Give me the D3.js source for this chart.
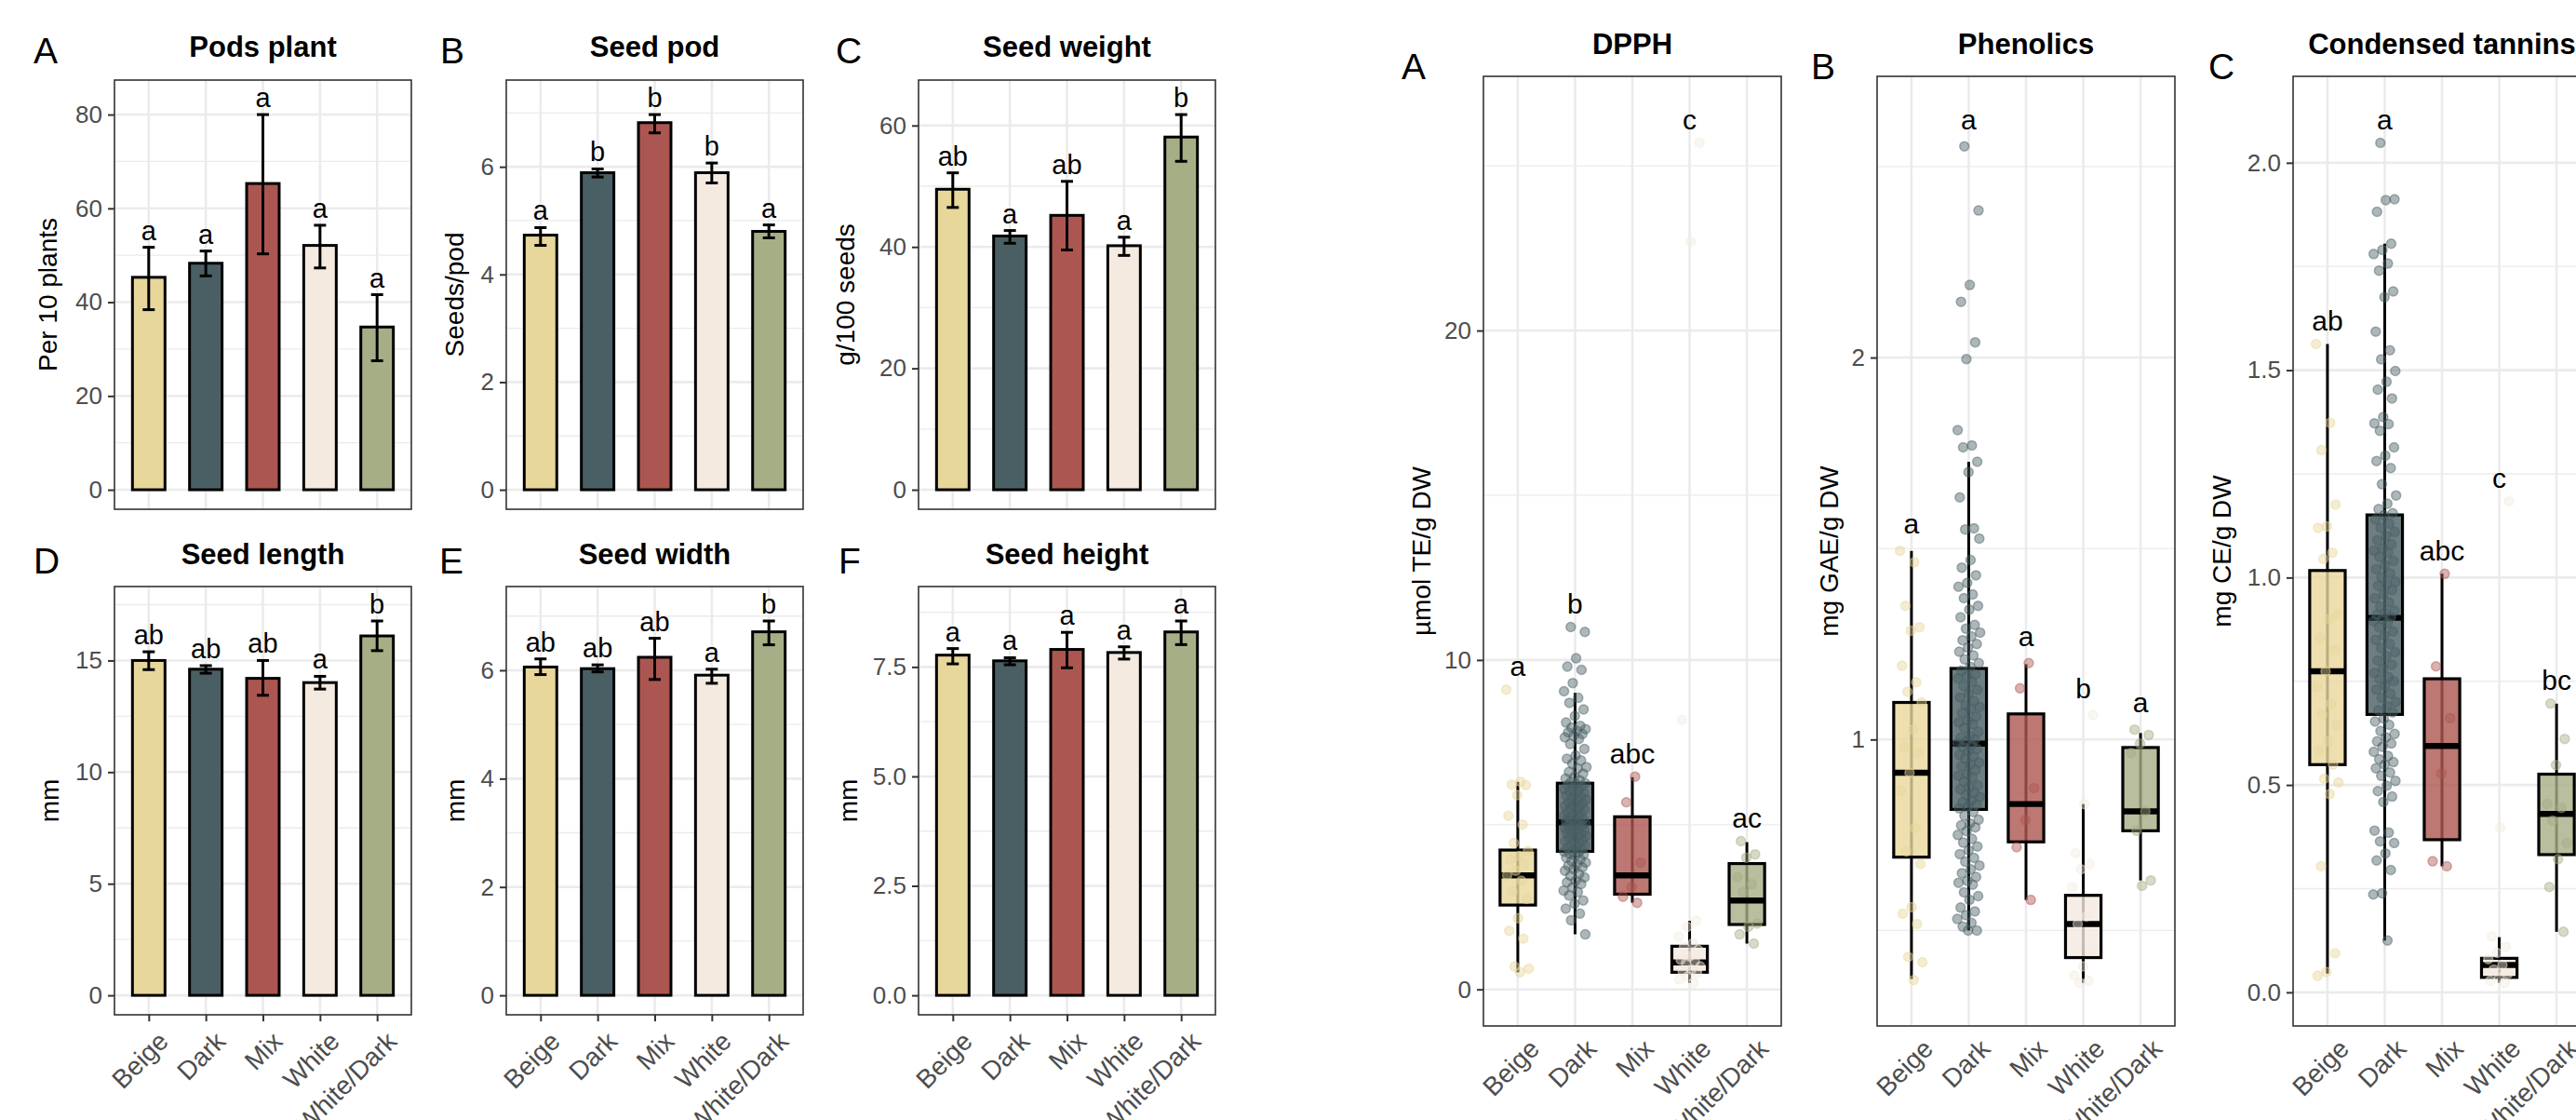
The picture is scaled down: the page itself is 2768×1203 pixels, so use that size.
<!DOCTYPE html>
<html>
<head>
<meta charset="utf-8">
<script src="https://cdn.jsdelivr.net/npm/d3@7"></script>
<style>
  body { margin: 0; background: #fff; }
  svg { display: block; }
</style>
</head>
<body>
<svg id="fig" width="2768" height="1203"></svg>
<script>
// ---- data ----
const cats = ["Beige", "Dark", "Mix", "White", "White/Dark"];
const fills = ["#e8d79b", "#4a5f64", "#ac5651", "#f4eae0", "#a6ae86"];

// bar panels: mean, lower / upper error bar, letters
const podsMean = [45.3, 48.3, 65.3, 52.1, 34.7];
const podsLow = [38.4, 45.6, 50.3, 47.3, 27.5];
const podsHigh = [51.7, 50.9, 80.0, 56.4, 41.6];
const podsLetters = ["a", "a", "a", "a", "a"];

const seedPodMean = [4.73, 5.89, 6.82, 5.89, 4.80];
const seedPodLow = [4.54, 5.81, 6.63, 5.70, 4.68];
const seedPodHigh = [4.87, 5.96, 6.97, 6.07, 4.92];
const seedPodLetters = ["a", "b", "b", "b", "a"];

const weightMean = [49.5, 41.8, 45.2, 40.2, 58.1];
const weightLow = [46.5, 40.6, 39.5, 38.6, 54.1];
const weightHigh = [52.2, 42.7, 50.8, 41.6, 61.8];
const weightLetters = ["ab", "a", "ab", "a", "b"];

const lengthMean = [15.0, 14.61, 14.2, 14.01, 16.1];
const lengthLow = [14.59, 14.43, 13.44, 13.72, 15.44];
const lengthHigh = [15.39, 14.77, 15.0, 14.29, 16.77];
const lengthLetters = ["ab", "ab", "ab", "a", "b"];

const widthMean = [6.06, 6.03, 6.24, 5.91, 6.71];
const widthLow = [5.92, 5.97, 5.83, 5.76, 6.47];
const widthHigh = [6.21, 6.10, 6.59, 6.02, 6.91];
const widthLetters = ["ab", "ab", "ab", "a", "b"];

const heightMean = [7.77, 7.64, 7.90, 7.83, 8.30];
const heightLow = [7.57, 7.55, 7.48, 7.68, 8.01];
const heightHigh = [7.92, 7.71, 8.29, 7.96, 8.55];
const heightLetters = ["a", "a", "a", "a", "a"];

// tick labels
const podsTicks = [0, 20, 40, 60, 80];
const seedPodTicks = [0, 2, 4, 6];
const weightTicks = [0, 20, 40, 60];
const lengthTicks = [0, 5, 10, 15];
const widthTicks = [0, 2, 4, 6];
const heightTicks = [0, 2.5, 5, 7.5];
const dpphTicks = [0, 10, 20];
const phenTicks = [1, 2];
const tanTicks = [0, 0.5, 1, 1.5, 2];

// box panels: [lower whisker, Q1, median, Q3, upper whisker] per group
const dpphStats = [[0.52, 2.56, 3.46, 4.23, 6.3], [1.67, 4.19, 5.07, 6.26, 9.0], [2.63, 2.89, 3.46, 5.24, 6.44], [0.2, 0.52, 0.82, 1.31, 2.08], [1.39, 1.97, 2.70, 3.82, 4.47]];
const phenStats = [[0.373, 0.692, 0.913, 1.097, 1.494], [0.5, 0.817, 0.989, 1.186, 1.727], [0.58, 0.732, 0.831, 1.067, 1.197], [0.363, 0.429, 0.517, 0.592, 0.831], [0.631, 0.761, 0.812, 0.979, 1.017]];
const tanStats = [[0.045, 0.549, 0.774, 1.017, 1.563], [0.125, 0.67, 0.903, 1.151, 1.805], [0.304, 0.368, 0.594, 0.756, 1.009], [0.023, 0.036, 0.066, 0.082, 0.133], [0.146, 0.332, 0.43, 0.526, 0.696]];
const dpphLetters = ["a", "b", "abc", "c", "ac"];
const phenLetters = ["a", "a", "a", "b", "a"];
const tanLetters = ["ab", "a", "abc", "c", "bc"];

// individual samples
const dpphBeige = [9.1, 6.3, 6.22, 6.2, 5.9, 5.27, 5.0, 4.44, 4.2, 4.05, 3.95, 3.8, 3.6, 3.46, 3.3, 2.97, 2.75, 2.16, 1.78, 1.54, 0.69, 0.63, 0.52];
const dpphDark = [11.0, 10.85, 10.05, 9.8, 9.7, 9.3, 9.05, 8.85, 8.7, 8.5, 8.3, 8.1, 8.0, 7.95, 7.9, 7.85, 7.8, 7.75, 7.7, 7.65, 7.6, 7.45, 7.3, 7.1, 7.0, 6.95, 6.85, 6.75, 6.7, 6.6, 6.55, 6.45, 6.4, 6.35, 6.3, 6.26, 6.23, 6.2, 6.16, 6.12, 6.08, 6.04, 6.0, 5.96, 5.92, 5.88, 5.84, 5.8, 5.76, 5.72, 5.68, 5.64, 5.6, 5.57, 5.53, 5.5, 5.46, 5.42, 5.38, 5.34, 5.3, 5.27, 5.24, 5.2, 5.17, 5.13, 5.1, 5.08, 5.07, 5.05, 5.03, 5.0, 4.96, 4.93, 4.9, 4.88, 4.85, 4.82, 4.8, 4.75, 4.72, 4.7, 4.66, 4.63, 4.6, 4.55, 4.52, 4.5, 4.45, 4.4, 4.37, 4.33, 4.3, 4.25, 4.2, 4.18, 4.15, 4.12, 4.1, 4.05, 4.0, 3.95, 3.9, 3.85, 3.8, 3.75, 3.7, 3.65, 3.6, 3.5, 3.45, 3.4, 3.3, 3.25, 3.2, 3.1, 3.0, 2.95, 2.85, 2.7, 2.6, 2.45, 2.3, 2.1, 1.67];
const dpphMix = [6.46, 5.68, 3.85, 3.1, 2.81, 2.63];
const dpphWhite = [25.7, 22.7, 8.18, 2.08, 1.9, 1.6, 1.4, 1.3, 1.2, 1.0, 0.9, 0.85, 0.8, 0.7, 0.6, 0.55, 0.5, 0.4, 0.3, 0.2];
const dpphWD = [4.5, 4.1, 4.0, 3.41, 3.19, 2.95, 2.0, 1.9, 1.67, 1.39];

const phenBeige = [1.494, 1.464, 1.35, 1.294, 1.285, 1.193, 1.15, 1.125, 1.097, 1.026, 0.98, 0.965, 0.913, 0.866, 0.768, 0.707, 0.674, 0.561, 0.544, 0.517, 0.431, 0.417, 0.37];
const phenDark = [2.553, 2.385, 2.19, 2.146, 2.04, 1.996, 1.81, 1.77, 1.765, 1.727, 1.70, 1.634, 1.553, 1.55, 1.526, 1.47, 1.45, 1.43, 1.41, 1.4, 1.38, 1.37, 1.35, 1.34, 1.32, 1.3, 1.29, 1.28, 1.27, 1.26, 1.25, 1.24, 1.23, 1.22, 1.21, 1.2, 1.19, 1.18, 1.17, 1.165, 1.16, 1.15, 1.14, 1.13, 1.12, 1.11, 1.1, 1.09, 1.085, 1.08, 1.07, 1.06, 1.05, 1.045, 1.04, 1.03, 1.02, 1.01, 1.005, 1.0, 0.995, 0.99, 0.985, 0.98, 0.975, 0.97, 0.96, 0.955, 0.95, 0.94, 0.935, 0.93, 0.92, 0.91, 0.905, 0.9, 0.89, 0.88, 0.875, 0.87, 0.86, 0.855, 0.85, 0.84, 0.835, 0.83, 0.825, 0.82, 0.81, 0.8, 0.79, 0.78, 0.775, 0.77, 0.76, 0.75, 0.74, 0.73, 0.72, 0.71, 0.7, 0.69, 0.68, 0.67, 0.66, 0.65, 0.64, 0.63, 0.625, 0.62, 0.6, 0.59, 0.58, 0.56, 0.55, 0.54, 0.53, 0.52, 0.51, 0.5, 0.5];
const phenMix = [1.2, 1.134, 0.873, 0.789, 0.718, 0.58];
const phenWhite = [1.064, 0.831, 0.702, 0.674, 0.66, 0.613, 0.537, 0.517, 0.45, 0.406, 0.382, 0.368, 0.363];
const phenWD = [1.026, 1.012, 0.989, 0.965, 0.812, 0.761, 0.631, 0.617];

const tanBeige = [1.563, 1.373, 1.307, 1.176, 1.123, 1.12, 1.06, 1.045, 0.912, 0.9, 0.855, 0.825, 0.774, 0.735, 0.696, 0.67, 0.644, 0.605, 0.584, 0.549, 0.515, 0.506, 0.478, 0.304, 0.094, 0.049, 0.04];
const tanDark = [2.048, 1.912, 1.91, 1.882, 1.805, 1.79, 1.78, 1.757, 1.74, 1.69, 1.676, 1.593, 1.548, 1.526, 1.498, 1.472, 1.453, 1.432, 1.387, 1.372, 1.37, 1.354, 1.314, 1.294, 1.281, 1.264, 1.225, 1.198, 1.178, 1.165, 1.155, 1.15, 1.14, 1.13, 1.12, 1.11, 1.1, 1.09, 1.08, 1.07, 1.065, 1.06, 1.05, 1.04, 1.03, 1.02, 1.01, 1.0, 0.99, 0.985, 0.98, 0.97, 0.96, 0.95, 0.94, 0.93, 0.92, 0.915, 0.91, 0.905, 0.9, 0.895, 0.89, 0.88, 0.87, 0.86, 0.85, 0.84, 0.83, 0.82, 0.81, 0.8, 0.79, 0.78, 0.77, 0.76, 0.755, 0.75, 0.74, 0.73, 0.72, 0.71, 0.7, 0.69, 0.68, 0.675, 0.66, 0.653, 0.645, 0.63, 0.623, 0.615, 0.605, 0.6, 0.592, 0.58, 0.57, 0.562, 0.555, 0.549, 0.54, 0.53, 0.522, 0.51, 0.498, 0.485, 0.472, 0.459, 0.39, 0.385, 0.364, 0.36, 0.335, 0.318, 0.295, 0.239, 0.236, 0.125];
const tanMix = [1.009, 0.786, 0.661, 0.528, 0.316, 0.304];
const tanWhite = [1.184, 0.397, 0.135, 0.11, 0.095, 0.08, 0.066, 0.055, 0.045, 0.035, 0.028, 0.023];
const tanWD = [0.696, 0.611, 0.548, 0.454, 0.445, 0.414, 0.36, 0.321, 0.254, 0.146];

// ---- drawing ----
const FONT = '"Liberation Sans", Arial, Helvetica, sans-serif';
const svg = d3.select('#fig').attr('font-family', FONT);
svg.append('rect').attr('width', 2768).attr('height', 1203).attr('fill', '#fff');

// frame of one panel: grid, axes, title, tag, y title. returns scales
function panelFrame(p) {
  const g = svg.append('g');
  const x = d3.scalePoint().domain(cats).range([p.left, p.left + p.w]).padding(0.6);
  const y = d3.scaleLinear().domain(p.domain).range([p.top + p.h, p.top]);
  const tk = p.ticks, st = tk[1] - tk[0];
  const minor = d3.range(tk[0] - st / 2, p.domain[1], st).filter(v => v > p.domain[0]);

  g.selectAll('line.mn').data(minor).join('line')
    .attr('x1', p.left).attr('x2', p.left + p.w)
    .attr('y1', d => y(d)).attr('y2', d => y(d))
    .attr('stroke', '#ebebeb').attr('stroke-width', 1.3);
  g.selectAll('line.mj').data(tk).join('line')
    .attr('x1', p.left).attr('x2', p.left + p.w)
    .attr('y1', d => y(d)).attr('y2', d => y(d))
    .attr('stroke', '#ebebeb').attr('stroke-width', 2.6);
  g.selectAll('line.vx').data(cats).join('line')
    .attr('x1', d => x(d)).attr('x2', d => x(d))
    .attr('y1', p.top).attr('y2', p.top + p.h)
    .attr('stroke', '#ebebeb').attr('stroke-width', 2.6);

  // y axis
  const ya = svg.append('g').attr('transform', `translate(${p.left},0)`)
    .call(d3.axisLeft(y).tickValues(tk).tickSize(7).tickPadding(6).tickFormat(p.fmt));
  ya.attr('font-size', 26).attr('font-family', FONT);
  ya.select('.domain').remove();
  ya.selectAll('line').attr('stroke', '#333').attr('stroke-width', 2);
  ya.selectAll('text').attr('fill', '#4d4d4d');

  // x axis labels
  if (p.xLabels) {
    const xa = svg.append('g').attr('transform', `translate(0,${p.top + p.h})`)
      .call(d3.axisBottom(x).tickSize(p.xTicks ? 7 : 0).tickPadding(0));
    xa.attr('font-size', 28).attr('font-family', FONT);
    xa.select('.domain').remove();
    xa.selectAll('line').attr('stroke', '#333').attr('stroke-width', 2);
    xa.selectAll('text')
      .attr('fill', '#4d4d4d').attr('x', 0).attr('y', 0).attr('dy', '0.72em')
      .attr('text-anchor', 'end')
      .attr('transform', `translate(${p.labDx},${p.labDy}) rotate(-45)`);
  }

  // title, tag, y title
  svg.append('text').attr('x', p.left + p.w / 2).attr('y', p.titleY)
    .attr('text-anchor', 'middle').attr('font-size', 31).attr('font-weight', 'bold')
    .text(p.title);
  svg.append('text').attr('x', p.tagX).attr('y', p.tagY)
    .attr('font-size', 39).text(p.tag);
  svg.append('text')
    .attr('transform', `translate(${p.ylabX},${p.top + p.h / 2}) rotate(-90)`)
    .attr('text-anchor', 'middle').attr('dy', '0.35em')
    .attr('font-size', 28).text(p.ylab);

  return { g, x, y };
}

function border(p) {
  svg.append('rect').attr('x', p.left).attr('y', p.top).attr('width', p.w).attr('height', p.h)
    .attr('fill', 'none').attr('stroke', '#333').attr('stroke-width', 1.6);
}

function barPanel(p) {
  const M = 1.04 * d3.max(p.high);
  p.domain = [-0.05 * M, 1.05 * M];
  const { g, x, y } = panelFrame(p);
  const bw = x.step() * 0.57, cap = 13;
  g.selectAll('rect.bar').data(cats).join('rect')
    .attr('x', d => x(d) - bw / 2).attr('width', bw)
    .attr('y', (d, i) => y(p.mean[i])).attr('height', (d, i) => y(0) - y(p.mean[i]))
    .attr('fill', (d, i) => fills[i]).attr('stroke', '#000').attr('stroke-width', 3);
  const eb = g.selectAll('g.eb').data(cats).join('g');
  eb.append('line').attr('x1', d => x(d)).attr('x2', d => x(d))
    .attr('y1', (d, i) => y(p.low[i])).attr('y2', (d, i) => y(p.high[i]));
  eb.append('line').attr('x1', d => x(d) - cap / 2).attr('x2', d => x(d) + cap / 2)
    .attr('y1', (d, i) => y(p.low[i])).attr('y2', (d, i) => y(p.low[i]));
  eb.append('line').attr('x1', d => x(d) - cap / 2).attr('x2', d => x(d) + cap / 2)
    .attr('y1', (d, i) => y(p.high[i])).attr('y2', (d, i) => y(p.high[i]));
  eb.selectAll('line').attr('stroke', '#000').attr('stroke-width', 3);
  g.selectAll('text.lt').data(cats).join('text')
    .attr('x', d => x(d)).attr('y', (d, i) => y(p.high[i]) - 8)
    .attr('text-anchor', 'middle').attr('font-size', 29)
    .text((d, i) => p.letters[i]);
  border(p);
}

function boxPanel(p) {
  const all = p.points.flat();
  const top = d3.max(all);
  const off = 0.0275 * top;
  const lo = Math.min(d3.min(all), d3.min(p.stats, s => s[0]));
  const hi = top + off;
  const span = hi - lo;
  p.domain = [lo - 0.05 * span, hi + 0.05 * span];
  const { g, x, y } = panelFrame(p);
  const bw = x.step() * 0.62;
  const jw = x.step() * 0.2;
  const grp = g.selectAll('g.grp').data(cats).join('g');
  grp.append('line').attr('x1', d => x(d)).attr('x2', d => x(d))
    .attr('y1', (d, i) => y(p.stats[i][0])).attr('y2', (d, i) => y(p.stats[i][4]))
    .attr('stroke', '#000').attr('stroke-width', 3);
  grp.append('rect')
    .attr('x', d => x(d) - bw / 2).attr('width', bw)
    .attr('y', (d, i) => y(p.stats[i][3]))
    .attr('height', (d, i) => y(p.stats[i][1]) - y(p.stats[i][3]))
    .attr('fill', (d, i) => fills[i]).attr('fill-opacity', 0.8)
    .attr('stroke', '#000').attr('stroke-width', 3.2);
  grp.append('line').attr('x1', d => x(d) - bw / 2).attr('x2', d => x(d) + bw / 2)
    .attr('y1', (d, i) => y(p.stats[i][2])).attr('y2', (d, i) => y(p.stats[i][2]))
    .attr('stroke', '#000').attr('stroke-width', 6.4);
  // jittered samples (deterministic spread)
  grp.each(function (d, i) {
    d3.select(this).selectAll('circle').data(p.points[i]).join('circle')
      .attr('cx', (v, k) => x(d) + (((k * 0.618034 + 0.31 * i) % 1) - 0.5) * 2 * jw)
      .attr('cy', v => y(v)).attr('r', 5)
      .attr('fill', fills[i]).attr('fill-opacity', 0.45)
      .attr('stroke', fills[i]).attr('stroke-opacity', 0.45).attr('stroke-width', 1.5);
  });
  g.selectAll('text.lt').data(cats).join('text')
    .attr('x', d => x(d)).attr('y', (d, i) => y(d3.max(p.points[i]) + off))
    .attr('dy', '0.35em').attr('text-anchor', 'middle').attr('font-size', 30)
    .text((d, i) => p.letters[i]);
  border(p);
}

const rowTop = [86, 630], boxH = 461, boxW = 319;
const colLeft = [123, 544, 987];

barPanel({ left: colLeft[0], top: rowTop[0], w: boxW, h: boxH, ticks: podsTicks, fmt: d3.format('d'),
  mean: podsMean, low: podsLow, high: podsHigh, letters: podsLetters,
  title: 'Pods plant', titleY: 61, tag: 'A', tagX: 36, tagY: 68, ylab: 'Per 10 plants', ylabX: 51 });
barPanel({ left: colLeft[1], top: rowTop[0], w: boxW, h: boxH, ticks: seedPodTicks, fmt: d3.format('d'),
  mean: seedPodMean, low: seedPodLow, high: seedPodHigh, letters: seedPodLetters,
  title: 'Seed pod', titleY: 61, tag: 'B', tagX: 473, tagY: 68, ylab: 'Seeds/pod', ylabX: 488 });
barPanel({ left: colLeft[2], top: rowTop[0], w: boxW, h: boxH, ticks: weightTicks, fmt: d3.format('d'),
  mean: weightMean, low: weightLow, high: weightHigh, letters: weightLetters,
  title: 'Seed weight', titleY: 61, tag: 'C', tagX: 898, tagY: 68, ylab: 'g/100 seeds', ylabX: 908 });

barPanel({ left: colLeft[0], top: rowTop[1], w: boxW, h: 460, ticks: lengthTicks, fmt: d3.format('d'),
  mean: lengthMean, low: lengthLow, high: lengthHigh, letters: lengthLetters,
  title: 'Seed length', titleY: 606, tag: 'D', tagX: 36, tagY: 616, ylab: 'mm', ylabX: 53,
  xLabels: true, xTicks: true, labDx: 8, labDy: 16 });
barPanel({ left: colLeft[1], top: rowTop[1], w: boxW, h: 460, ticks: widthTicks, fmt: d3.format('d'),
  mean: widthMean, low: widthLow, high: widthHigh, letters: widthLetters,
  title: 'Seed width', titleY: 606, tag: 'E', tagX: 472, tagY: 616, ylab: 'mm', ylabX: 489,
  xLabels: true, xTicks: true, labDx: 8, labDy: 16 });
barPanel({ left: colLeft[2], top: rowTop[1], w: boxW, h: 460, ticks: heightTicks, fmt: d3.format('.1f'),
  mean: heightMean, low: heightLow, high: heightHigh, letters: heightLetters,
  title: 'Seed height', titleY: 606, tag: 'F', tagX: 901, tagY: 616, ylab: 'mm', ylabX: 911,
  xLabels: true, xTicks: true, labDx: 8, labDy: 16 });

boxPanel({ left: 1594, top: 82, w: 320, h: 1020, ticks: dpphTicks, fmt: d3.format('d'),
  stats: dpphStats, points: [dpphBeige, dpphDark, dpphMix, dpphWhite, dpphWD], letters: dpphLetters,
  title: 'DPPH', titleY: 58, tag: 'A', tagX: 1506, tagY: 85, ylab: 'µmol TE/g DW', ylabX: 1527,
  xLabels: true, xTicks: false, labDx: 10, labDy: 12 });
boxPanel({ left: 2017, top: 82, w: 320, h: 1020, ticks: phenTicks, fmt: d3.format('d'),
  stats: phenStats, points: [phenBeige, phenDark, phenMix, phenWhite, phenWD], letters: phenLetters,
  title: 'Phenolics', titleY: 58, tag: 'B', tagX: 1946, tagY: 85, ylab: 'mg GAE/g DW', ylabX: 1965,
  xLabels: true, xTicks: false, labDx: 10, labDy: 12 });
boxPanel({ left: 2464, top: 82, w: 320, h: 1020, ticks: tanTicks, fmt: d3.format('.1f'),
  stats: tanStats, points: [tanBeige, tanDark, tanMix, tanWhite, tanWD], letters: tanLetters,
  title: 'Condensed tannins', titleY: 58, tag: 'C', tagX: 2373, tagY: 85, ylab: 'mg CE/g DW', ylabX: 2387,
  xLabels: true, xTicks: false, labDx: 10, labDy: 12 });
</script>
</body>
</html>
